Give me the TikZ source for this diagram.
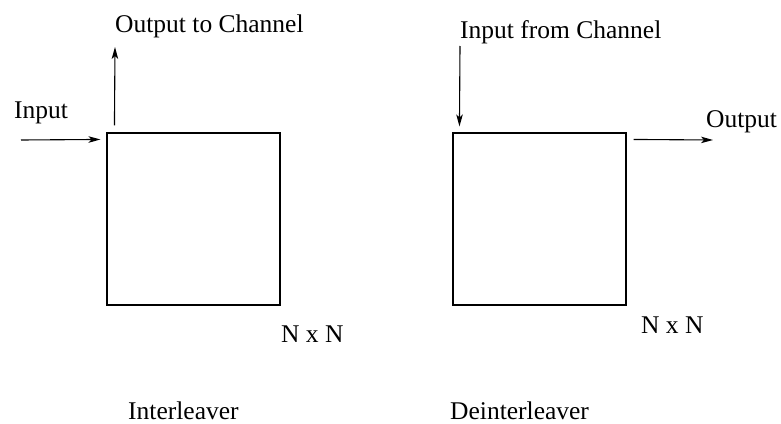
\documentclass[tikz,border=0pt]{standalone}
\usepackage{fontspec}
\setmainfont{Liberation Serif}
\usetikzlibrary{arrows.meta,calc}
\begin{document}
\begin{tikzpicture}[x=1pt,y=-1pt,
  box/.style={draw,line width=1.1pt,minimum width=173pt,minimum height=172pt,inner sep=0pt},
  lbl/.style={inner sep=0pt,font=\fontsize{25.5}{30}\selectfont},
  arr/.style={line width=1.1pt,-{Stealth[length=12pt,width=6.5pt,inset=3pt]}}]
\useasboundingbox (0,0) rectangle (781,423);
% boxes
\node[box] (il) at (193.5,219) {};
\node[box] (dl) at (539.5,219) {};
% labels
\node[lbl,anchor=base west] (inp) at (14,118) {Input};
\node[lbl,anchor=base west] (otc) at (115,32) {Output to Channel};
\node[lbl,anchor=base west] (ifc) at (460,38) {Input from Channel};
\node[lbl,anchor=base west] (outp) at (706,127) {Output};
\node[lbl,anchor=base west] (nn1) at (281,342) {N x N};
\node[lbl,anchor=base west] (nn2) at (641,333) {N x N};
\node[lbl,anchor=base west] (iname) at (128,419) {Interleaver};
\node[lbl,anchor=base west] (dname) at (450,419) {Deinterleaver};
% connector end points
\coordinate (inS) at (21,140);
\coordinate (inE) at ($(il.north west)+(-6,7)$);
\coordinate (otcS) at ($(il.north west)+(8,-7)$);
\coordinate (otcE) at (115,47);
\coordinate (ifcS) at (460,46);
\coordinate (ifcE) at ($(dl.north west)+(7,-6)$);
\coordinate (outS) at ($(dl.north east)+(7,7)$);
\coordinate (outE) at (713,140);
% connectors
\draw[arr] (inS) -- (inE);
\draw[arr] (otcS) -- (otcE);
\draw[arr] (ifcS) -- (ifcE);
\draw[arr] (outS) -- (outE);
\end{tikzpicture}
\end{document}
